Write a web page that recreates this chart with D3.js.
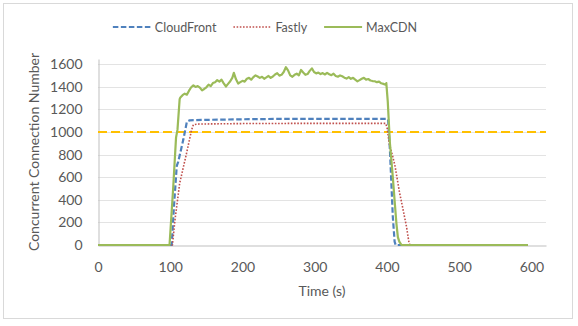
<!DOCTYPE html>
<html lang="en">
<head>
<meta charset="utf-8">
<title>Concurrent Connection Number</title>
<script src="https://d3js.org/d3.v7.min.js"></script>
<style>
body { margin: 0; background: #fff; }
text { font-family: Lato, "Open Sans", sans-serif; fill: #595959; }
</style>
</head>
<body>
<div id="my_dataviz"></div>
<script>
// tick labels
var xTicks = [0, 100, 200, 300, 400, 500, 600];
var yTicks = [0, 200, 400, 600, 800, 1000, 1200, 1400, 1600];

// series names, in legend order
var seriesNames = ["CloudFront", "Fastly", "MaxCDN"];

// the flat dashed line
var threshold = 1000;

// [time (s), connections]
var cloudfront = [[0,0],[102,0],[105,330],[109,700],[111,735],[118,930],[123,1090],[127,1103],
  [150,1107],[200,1112],[250,1115],[300,1116],[350,1116],[400,1116],[401.5,1110],[404,840],
  [406,545],[408,250],[410.5,30],[412,0],[595,0]];

var fastly = [[0,0],[103,0],[106.5,220],[113,545],[122.5,810],[129.5,1017],[132,1065],[140,1070],
  [200,1074],[300,1076],[398,1076],[400,1040],[403,900],[408,780],[411,700],[417.5,457],
  [422,320],[427,160],[430.5,15],[432,0],[595,0]];

var maxcdn = [[0,0],[99,0],[104,500],[108,950],[110,1020],[113,1290],[114,1305],[117,1325],
  [120,1338],[123,1330],[126,1365],[129,1395],[132,1412],[135,1398],[138,1405],[141,1392],
  [144,1368],[147,1380],[150,1395],[153,1418],[156,1405],[159,1432],[162,1440],[165,1458],
  [168,1445],[171,1462],[174,1430],[177,1402],[180,1425],[183,1448],[186,1480],[188,1522],
  [191,1465],[194,1428],[197,1440],[200,1452],[203,1445],[206,1470],[209,1478],[212,1462],
  [215,1485],[218,1500],[221,1490],[224,1478],[227,1488],[230,1470],[233,1482],[236,1495],
  [239,1478],[242,1490],[245,1508],[248,1520],[251,1498],[254,1505],[257,1530],[260,1572],
  [263,1545],[266,1500],[269,1488],[272,1505],[275,1515],[278,1500],[281,1548],[284,1525],
  [287,1505],[290,1512],[293,1540],[296,1562],[299,1530],[302,1518],[305,1525],[308,1512],
  [311,1520],[314,1508],[317,1522],[320,1510],[323,1502],[326,1515],[329,1495],[332,1488],
  [335,1500],[338,1492],[341,1480],[344,1472],[347,1485],[350,1470],[353,1478],[356,1462],
  [359,1448],[362,1458],[365,1470],[368,1478],[371,1462],[374,1468],[377,1455],[380,1450],
  [383,1448],[386,1440],[389,1445],[392,1430],[395,1425],[398,1418],[399,1432],[401,1270],
  [404,900],[408,600],[411,350],[413,190],[415,70],[417,30],[420,0],[595,0]];

var colors = ["#4f81bd", "#c0504d", "#9bbb59"];
var dashes = ["5.5,2.5", "1.6,1.6", null];
var widths = [2.2, 1.6, 2.2];

var W = 578, H = 326;

var svg = d3.select("#my_dataviz")
  .append("svg")
    .attr("width", W)
    .attr("height", H);

// chart frame
svg.append("rect")
  .attr("x", 3.5).attr("y", 3.5)
  .attr("width", 569).attr("height", 315)
  .attr("fill", "#fff")
  .attr("stroke", "#d9d9d9");

var x = d3.scaleLinear().domain([0, 620]).range([98, 546]);
var y = d3.scaleLinear().domain([0, 1645]).range([245, 59]);

// horizontal gridlines
svg.append("g")
  .selectAll("line")
  .data(yTicks.slice(1))
  .enter()
  .append("line")
    .attr("x1", x(0)).attr("x2", x(620))
    .attr("y1", function(d) { return Math.round(y(d)) + 0.5; })
    .attr("y2", function(d) { return Math.round(y(d)) + 0.5; })
    .attr("stroke", "#e3e3e3");

// axes
var yAxis = svg.append("g")
  .attr("transform", "translate(" + (x(0) + 0.5) + ",0)")
  .call(d3.axisLeft(y).tickValues(yTicks).tickFormat(d3.format("d"))
    .tickSize(0).tickSizeOuter(0).tickPadding(16));

var xAxis = svg.append("g")
  .attr("transform", "translate(0," + (y(0) + 0.5) + ")")
  .call(d3.axisBottom(x).tickValues(xTicks).tickFormat(d3.format("d"))
    .tickSize(0).tickSizeOuter(0).tickPadding(17));

[xAxis, yAxis].forEach(function(a) {
  a.attr("font-family", null).attr("font-size", 14);
  a.select(".domain").attr("stroke", "#bfbfbf");
  a.selectAll("text").attr("fill", "#595959");
});

// threshold line
svg.append("line")
  .attr("x1", x(0)).attr("x2", x(620))
  .attr("y1", y(threshold)).attr("y2", y(threshold))
  .attr("stroke", "#ffc000")
  .attr("stroke-width", 2)
  .attr("stroke-dasharray", "9,4");

// series lines
var line = d3.line()
  .x(function(d) { return x(d[0]); })
  .y(function(d) { return y(d[1]); });

[cloudfront, fastly, maxcdn].forEach(function(s, i) {
  svg.append("path")
    .datum(s)
    .attr("fill", "none")
    .attr("stroke", colors[i])
    .attr("stroke-width", widths[i])
    .attr("stroke-dasharray", dashes[i])
    .attr("stroke-linejoin", "round")
    .attr("d", line);
});

// axis titles
svg.append("text")
  .attr("x", (x(0) + x(620)) / 2)
  .attr("y", 296)
  .attr("text-anchor", "middle")
  .attr("font-size", 14)
  .text("Time (s)");

svg.append("text")
  .attr("transform", "translate(39," + ((y(0) + y(1645)) / 2) + ") rotate(-90)")
  .attr("text-anchor", "middle")
  .attr("font-size", 14)
  .text("Concurrent Connection Number");

// legend
var legend = svg.append("g");
var lx = 0;
seriesNames.forEach(function(name, i) {
  legend.append("line")
    .attr("x1", lx).attr("x2", lx + 38)
    .attr("y1", 27).attr("y2", 27)
    .attr("stroke", colors[i])
    .attr("stroke-width", widths[i])
    .attr("stroke-dasharray", dashes[i]);
  var t = legend.append("text")
    .attr("x", lx + 42)
    .attr("y", 31.5)
    .attr("font-size", 12.5)
    .text(name);
  lx += 42 + t.node().getComputedTextLength() + 17;
});
lx -= 17;
legend.attr("transform", "translate(" + (265 - lx / 2) + ",0)");
</script>
</body>
</html>
